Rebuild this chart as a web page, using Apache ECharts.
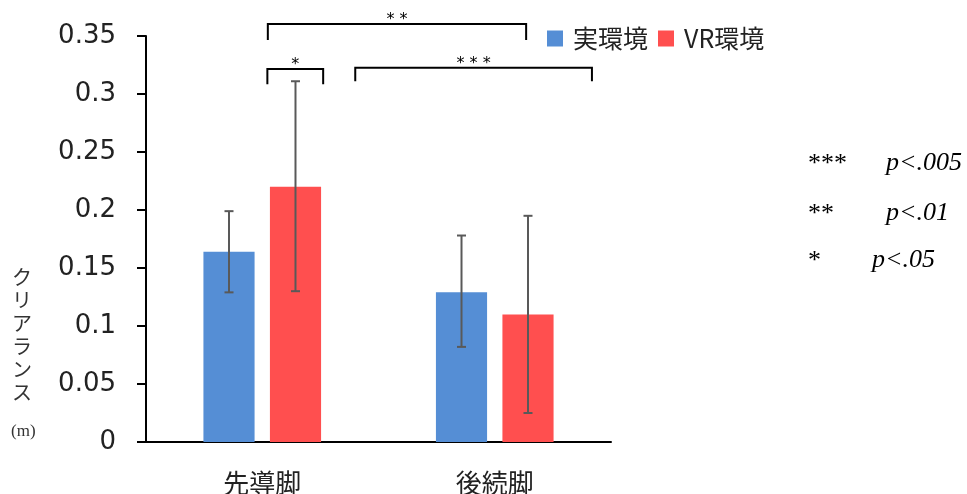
<!DOCTYPE html>
<html>
<head>
<meta charset="utf-8">
<script src="https://cdn.jsdelivr.net/npm/echarts@6/dist/echarts.min.js"></script>
<style>
  html, body { margin: 0; padding: 0; background: #fff; }
  #chart { width: 967px; height: 494px; }
</style>
</head>
<body>
<div id="chart"></div>
<script>
// データ
const categories = ['先導脚', '後続脚']
const realMean = [0.164, 0.129]
const realLow = [0.129, 0.082]
const realHigh = [0.199, 0.178]
const vrMean = [0.22, 0.11]
const vrLow = [0.13, 0.025]
const vrHigh = [0.311, 0.195]

// 有意差ブラケット (x はカテゴリ単位、y は値)
const bracketFrom = [0.024, 0.022, 0.40]
const bracketTo = [1.135, 0.262, 1.418]
const bracketTop = [0.3603, 0.3215, 0.3226]
const bracketFoot = [0.3465, 0.3085, 0.311]
const bracketLabels = ['* *', '*', '* * *']

const BAR_W = 0.22
const BAR_GAP = 0.3

const chart = echarts.init(document.getElementById('chart'))

// エラーバー
const errorRender = (sign) => (params, api) => {
  const i = api.value(0)
  const band = api.size([1, 0])[0]
  const dx = sign * band * BAR_W * (1 + BAR_GAP) / 2
  const top = api.coord([i, api.value(2)])
  const bot = api.coord([i, api.value(1)])
  const x = top[0] + dx
  const style = { stroke: '#595959', lineWidth: 2 }
  return {
    type: 'group',
    children: [
      { type: 'line', shape: { x1: x, y1: top[1], x2: x, y2: bot[1] }, style },
      { type: 'line', shape: { x1: x - 4.5, y1: top[1], x2: x + 4.5, y2: top[1] }, style },
      { type: 'line', shape: { x1: x - 4.5, y1: bot[1], x2: x + 4.5, y2: bot[1] }, style }
    ]
  }
}

// ブラケット
const bracketRender = (params, api) => {
  const k = params.dataIndex
  const c0 = api.coord([0, bracketTop[k]])
  const c1 = api.coord([1, bracketTop[k]])
  const foot = api.coord([0, bracketFoot[k]])[1]
  const xa = c0[0] + bracketFrom[k] * (c1[0] - c0[0])
  const xb = c0[0] + bracketTo[k] * (c1[0] - c0[0])
  const y = c0[1]
  return {
    type: 'group',
    children: [
      {
        type: 'polyline',
        shape: { points: [[xa, foot], [xa, y], [xb, y], [xb, foot]] },
        style: { stroke: '#000', lineWidth: 2, fill: null }
      },
      {
        type: 'text',
        style: {
          x: (xa + xb) / 2, y: y - 4,
          text: bracketLabels[k],
          fill: '#000',
          font: '16px "DejaVu Sans"',
          align: 'center',
          verticalAlign: 'middle'
        }
      }
    ]
  }
}

const noteFont = '26px "Liberation Serif"'
const noteItalic = 'italic 26px "Liberation Serif"'

const option = {
  animation: false,
  grid: { left: 146, right: 356, top: 36, bottom: 52, outerBoundsMode: 'none' },
  legend: {
    data: ['実環境', 'VR環境'],
    left: 542,
    top: 21,
    icon: 'rect',
    itemWidth: 16,
    itemHeight: 16,
    itemGap: 10,
    textStyle: {
      fontSize: 25,
      fontFamily: '"Noto Sans CJK JP"',
      color: '#222',
      padding: [0, 0, 0, 5]
    }
  },
  xAxis: {
    type: 'category',
    data: categories,
    axisLine: { lineStyle: { color: '#000', width: 2 } },
    axisTick: { show: false },
    axisLabel: {
      fontSize: 26,
      fontFamily: '"Noto Sans CJK JP"',
      color: '#222',
      margin: 28
    }
  },
  yAxis: {
    type: 'value',
    min: 0,
    max: 0.35,
    interval: 0.05,
    splitLine: { show: false },
    axisLine: { show: true, lineStyle: { color: '#000', width: 2 } },
    axisTick: { show: true, length: 9, lineStyle: { color: '#000', width: 2 } },
    axisLabel: {
      fontSize: 26,
      fontFamily: '"DejaVu Sans"',
      color: '#222',
      margin: 30,
      formatter: v => String(+v.toFixed(2))
    }
  },
  graphic: [
    {
      type: 'text', left: 12, top: 266,
      style: {
        text: 'ク\nリ\nア\nラ\nン\nス',
        font: '20px "Noto Sans CJK JP"',
        lineHeight: 23,
        fill: '#333'
      }
    },
    {
      type: 'text', left: 11, top: 423,
      style: { text: '(m)', font: '17px "Liberation Serif"', fill: '#333' }
    },
    { type: 'text', left: 808, top: 151, style: { text: '***', font: noteFont, fill: '#000' } },
    { type: 'text', left: 886, top: 150, style: { text: 'p<.005', font: noteItalic, fill: '#000' } },
    { type: 'text', left: 808, top: 201, style: { text: '**', font: noteFont, fill: '#000' } },
    { type: 'text', left: 886, top: 200, style: { text: 'p<.01', font: noteItalic, fill: '#000' } },
    { type: 'text', left: 808, top: 248, style: { text: '*', font: noteFont, fill: '#000' } },
    { type: 'text', left: 872, top: 247, style: { text: 'p<.05', font: noteItalic, fill: '#000' } }
  ],
  series: [
    {
      name: '実環境',
      type: 'bar',
      barWidth: (BAR_W * 100) + '%',
      barGap: (BAR_GAP * 100) + '%',
      itemStyle: { color: '#558ED5' },
      data: realMean
    },
    {
      name: 'VR環境',
      type: 'bar',
      barWidth: (BAR_W * 100) + '%',
      itemStyle: { color: '#FF4F4F' },
      data: vrMean
    },
    {
      type: 'custom',
      renderItem: errorRender(-1),
      data: categories.map((c, i) => [i, realLow[i], realHigh[i]]),
      z: 10
    },
    {
      type: 'custom',
      renderItem: errorRender(1),
      data: categories.map((c, i) => [i, vrLow[i], vrHigh[i]]),
      z: 10
    },
    {
      type: 'custom',
      renderItem: bracketRender,
      clip: false,
      data: bracketLabels.map((l, k) => [0, bracketTop[k]]),
      z: 10
    }
  ]
}

chart.setOption(option)
</script>
</body>
</html>
